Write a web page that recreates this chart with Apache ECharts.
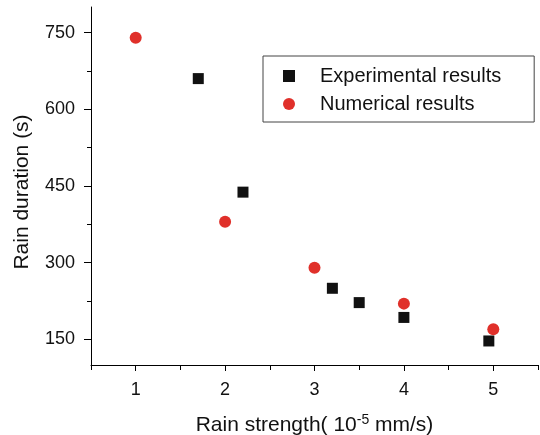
<!DOCTYPE html>
<html>
<head>
<meta charset="utf-8">
<script src="https://cdn.jsdelivr.net/npm/echarts@6/dist/echarts.min.js"></script>
<style>html,body{margin:0;padding:0;background:#fff}#c{width:540px;height:435px}</style>
</head>
<body>
<div id="c"></div>
<script>
// Data
const expX = [1.7, 2.2, 3.2, 3.5, 4.0, 4.95];
const expY = [660, 438, 250, 222, 193, 147];
const numX = [1, 2, 3, 4, 5];
const numY = [740, 380, 290, 220, 170];
const xMajorTicks = [1, 2, 3, 4, 5];
const xMinorTicks = [0.5, 1.5, 2.5, 3.5, 4.5, 5.5];
const yMajorTicks = [150, 300, 450, 600, 750];
const yMinorTicks = [225, 375, 525, 675];
const xRange = [0.5, 5.5];
const yRange = [100, 800];
const seriesNames = ['Experimental results', 'Numerical results'];

const font = 'Liberation Sans, Arial, Helvetica, sans-serif';
const chart = echarts.init(document.getElementById('c'), null, {renderer: 'canvas'});
const lineStyle = {color: '#000', width: 1};
chart.setOption({
  animation: false,
  grid: {left: 91, right: 2, top: 7, bottom: 70, containLabel: false, outerBoundsMode: 'none'},
  legend: {
    left: 263, top: 56,
    orient: 'vertical',
    borderColor: '#444', borderWidth: 1,
    padding: [10, 33, 8, 20],
    itemWidth: 12, itemHeight: 12, itemGap: 8,
    textStyle: {fontFamily: font, fontSize: 20, color: '#111', padding: [0, 0, 0, 20]},
    data: [
      {name: seriesNames[0], icon: 'rect', itemStyle: {opacity: 1}},
      {name: seriesNames[1], icon: 'circle', itemStyle: {opacity: 1}}
    ]
  },
  xAxis: [{
    type: 'value', min: xRange[0], max: xRange[1],
    axisLine: {lineStyle: lineStyle},
    axisTick: {show: true, length: 6, lineStyle: lineStyle, customValues: xMajorTicks},
    axisLabel: {customValues: xMajorTicks, margin: 16, fontFamily: font, fontSize: 18, color: '#111'},
    splitLine: {show: false},
    name: 'Rain strength( 10{sup|-5} mm/s)',
    nameLocation: 'middle', nameGap: 48,
    nameTextStyle: {fontFamily: font, fontSize: 21, color: '#111',
      rich: {sup: {fontFamily: font, fontSize: 14, color: '#111', verticalAlign: 'top', padding: [0, 0, 10, 0]}}}
  }, {
    type: 'value', min: xRange[0], max: xRange[1], position: 'bottom', offset: 0,
    axisLine: {show: false},
    axisTick: {show: true, length: 5, lineStyle: lineStyle, customValues: xMinorTicks},
    axisLabel: {show: false},
    splitLine: {show: false}
  }],
  yAxis: [{
    type: 'value', min: yRange[0], max: yRange[1],
    axisLine: {show: true, lineStyle: lineStyle},
    axisTick: {show: true, length: 7, lineStyle: lineStyle, customValues: yMajorTicks},
    axisLabel: {customValues: yMajorTicks, margin: 16, fontFamily: font, fontSize: 18, color: '#111'},
    splitLine: {show: false},
    name: 'Rain duration (s)',
    nameLocation: 'middle', nameGap: 58,
    nameTextStyle: {fontFamily: font, fontSize: 21, color: '#111', padding: [0, 12, 0, 0]}
  }, {
    type: 'value', min: yRange[0], max: yRange[1], position: 'left', offset: 0,
    axisLine: {show: false},
    axisTick: {show: true, length: 4, lineStyle: lineStyle, customValues: yMinorTicks},
    axisLabel: {show: false},
    splitLine: {show: false}
  }],
  series: [{
    name: seriesNames[0], type: 'scatter', symbol: 'rect', symbolSize: 11,
    itemStyle: {color: '#111111', opacity: 1},
    data: expX.map((x, i) => [x, expY[i]])
  }, {
    name: seriesNames[1], type: 'scatter', symbol: 'circle', symbolSize: 12,
    itemStyle: {color: '#e0302a', opacity: 1},
    data: numX.map((x, i) => [x, numY[i]])
  }]
});
</script>
</body>
</html>
